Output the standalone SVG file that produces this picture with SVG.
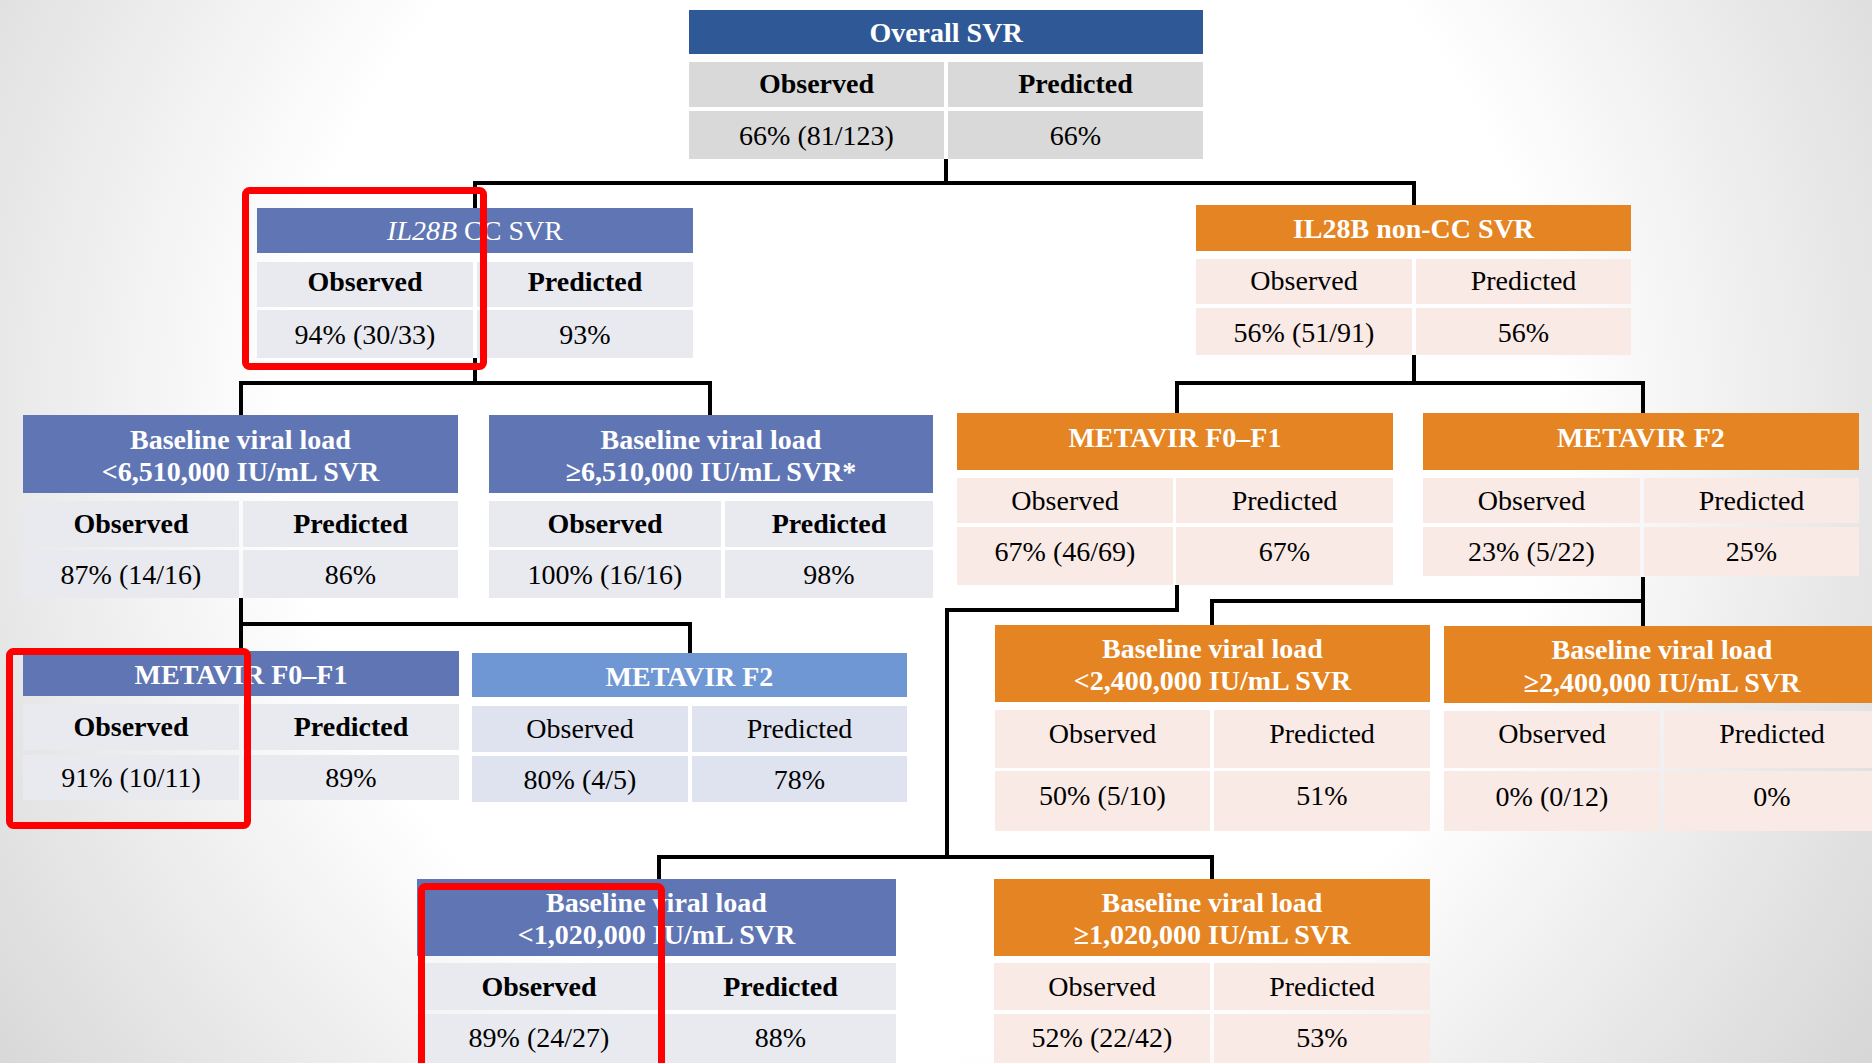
<svg xmlns="http://www.w3.org/2000/svg" width="1872" height="1063" viewBox="0 0 1872 1063">
<defs>
<radialGradient id="bg" cx="920" cy="420" r="1150" gradientUnits="userSpaceOnUse">
<stop offset="0" stop-color="#ffffff"/>
<stop offset="0.55" stop-color="#ffffff"/>
<stop offset="1" stop-color="#d6d6d6"/>
</radialGradient>
<style>
.hd-dark{fill:#2F5897}
.hd-blue{fill:#6076B4}
.hd-lblue{fill:#6F97D3}
.hd-org{fill:#E58422}
.c-gray{fill:#D9D9D9}
.c-blue{fill:#E9EAF0}
.c-lblue{fill:#DFE3EF}
.c-org{fill:#F9EAE6}
text{font-family:"Liberation Serif","Times New Roman",serif;font-size:28px;text-anchor:middle;fill:#000}
.ht{fill:#fff;font-weight:bold}
.hn{fill:#fff}
.b{font-weight:bold}
.conn{stroke:#000;stroke-width:4;fill:none;stroke-linejoin:miter;stroke-linecap:square}
.red{fill:none;stroke:#FF0000;stroke-width:7}
</style>
</defs>
<rect x="0" y="0" width="1872" height="1063" fill="url(#bg)"/>

<g id="connectors">
<path class="conn" d="M946 161 V183 M475 208 V183 H1414 V205"/>
<path class="conn" d="M475 360 V383 M241 415 V383 H710 V415"/>
<path class="conn" d="M1414 357 V383 M1177 413 V383 H1643 V413"/>
<path class="conn" d="M241 600 V651 M241 624 H690 V653"/>
<path class="conn" d="M1177 587 V610 H947 V857 M659 879 V857 H1212 V879"/>
<path class="conn" d="M1643 579 V626 M1212 624 V601 H1643"/>
</g>

<g id="overall">
<rect class="hd-dark" x="689" y="10" width="514" height="44"/>
<rect class="c-gray" x="689" y="62" width="255" height="45"/>
<rect class="c-gray" x="948" y="62" width="255" height="45"/>
<rect class="c-gray" x="689" y="111" width="255" height="48"/>
<rect class="c-gray" x="948" y="111" width="255" height="48"/>
<text class="ht" x="946" y="41.5">Overall SVR</text>
<text class="b" x="816.5" y="93">Observed</text>
<text class="b" x="1075.5" y="93">Predicted</text>
<text x="816.5" y="144.5">66% (81/123)</text>
<text x="1075.5" y="144.5">66%</text>
</g>

<g id="il28b-cc">
<rect class="hd-blue" x="257" y="208" width="436" height="45"/>
<rect class="c-blue" x="257" y="262" width="216" height="45"/>
<rect class="c-blue" x="477" y="262" width="216" height="45"/>
<rect class="c-blue" x="257" y="310" width="216" height="48"/>
<rect class="c-blue" x="477" y="310" width="216" height="48"/>
<text class="hn" x="475" y="240"><tspan font-style="italic">IL28B</tspan> CC SVR</text>
<text class="b" x="365" y="291">Observed</text>
<text class="b" x="585" y="291">Predicted</text>
<text x="365" y="343.5">94% (30/33)</text>
<text x="585" y="343.5">93%</text>
</g>

<g id="il28b-noncc">
<rect class="hd-org" x="1196" y="205" width="435" height="46"/>
<rect class="c-org" x="1196" y="259" width="216" height="45"/>
<rect class="c-org" x="1416" y="259" width="215" height="45"/>
<rect class="c-org" x="1196" y="308" width="216" height="47"/>
<rect class="c-org" x="1416" y="308" width="215" height="47"/>
<text class="ht" x="1413.5" y="237.5">IL28B non-CC SVR</text>
<text x="1304" y="290">Observed</text>
<text x="1523.5" y="290">Predicted</text>
<text x="1304" y="341.5">56% (51/91)</text>
<text x="1523.5" y="341.5">56%</text>
</g>

<g id="bvl-lt-6510">
<rect class="hd-blue" x="23" y="415" width="435" height="78"/>
<rect class="c-blue" x="23" y="501" width="216" height="46"/>
<rect class="c-blue" x="243" y="501" width="215" height="46"/>
<rect class="c-blue" x="23" y="550" width="216" height="48"/>
<rect class="c-blue" x="243" y="550" width="215" height="48"/>
<text class="ht" x="240.5" y="449">Baseline viral load</text>
<text class="ht" x="240.5" y="481">&lt;6,510,000 IU/mL SVR</text>
<text class="b" x="131" y="532.5">Observed</text>
<text class="b" x="350.5" y="532.5">Predicted</text>
<text x="131" y="584">87% (14/16)</text>
<text x="350.5" y="584">86%</text>
</g>

<g id="bvl-ge-6510">
<rect class="hd-blue" x="489" y="415" width="444" height="78"/>
<rect class="c-blue" x="489" y="501" width="232" height="46"/>
<rect class="c-blue" x="725" y="501" width="208" height="46"/>
<rect class="c-blue" x="489" y="550" width="232" height="48"/>
<rect class="c-blue" x="725" y="550" width="208" height="48"/>
<text class="ht" x="711" y="449">Baseline viral load</text>
<text class="ht" x="711" y="481">≥6,510,000 IU/mL SVR*</text>
<text class="b" x="605" y="532.5">Observed</text>
<text class="b" x="829" y="532.5">Predicted</text>
<text x="605" y="584">100% (16/16)</text>
<text x="829" y="584">98%</text>
</g>

<g id="metavir-f0f1-noncc">
<rect class="hd-org" x="957" y="413" width="436" height="57"/>
<rect class="c-org" x="957" y="478" width="216" height="45"/>
<rect class="c-org" x="1176" y="478" width="217" height="45"/>
<rect class="c-org" x="957" y="527" width="216" height="58"/>
<rect class="c-org" x="1176" y="527" width="217" height="58"/>
<text class="ht" x="1175" y="447">METAVIR F0–F1</text>
<text x="1065" y="510">Observed</text>
<text x="1284.5" y="510">Predicted</text>
<text x="1065" y="561">67% (46/69)</text>
<text x="1284.5" y="561">67%</text>
</g>

<g id="metavir-f2-noncc">
<rect class="hd-org" x="1423" y="413" width="436" height="57"/>
<rect class="c-org" x="1423" y="478" width="217" height="45"/>
<rect class="c-org" x="1644" y="478" width="215" height="45"/>
<rect class="c-org" x="1423" y="527" width="217" height="49"/>
<rect class="c-org" x="1644" y="527" width="215" height="49"/>
<text class="ht" x="1641" y="447">METAVIR F2</text>
<text x="1531.5" y="510">Observed</text>
<text x="1751.5" y="510">Predicted</text>
<text x="1531.5" y="561">23% (5/22)</text>
<text x="1751.5" y="561">25%</text>
</g>

<g id="metavir-f0f1-cc">
<rect class="hd-blue" x="23" y="651" width="436" height="45"/>
<rect class="c-blue" x="23" y="704" width="216" height="46"/>
<rect class="c-blue" x="243" y="704" width="216" height="46"/>
<rect class="c-blue" x="23" y="755" width="216" height="45"/>
<rect class="c-blue" x="243" y="755" width="216" height="45"/>
<text class="ht" x="241" y="684">METAVIR F0–F1</text>
<text class="b" x="131" y="735.5">Observed</text>
<text class="b" x="351" y="735.5">Predicted</text>
<text x="131" y="786.5">91% (10/11)</text>
<text x="351" y="786.5">89%</text>
</g>

<g id="metavir-f2-cc">
<rect class="hd-lblue" x="472" y="653" width="435" height="44"/>
<rect class="c-lblue" x="472" y="706" width="216" height="46"/>
<rect class="c-lblue" x="692" y="706" width="215" height="46"/>
<rect class="c-lblue" x="472" y="756" width="216" height="46"/>
<rect class="c-lblue" x="692" y="756" width="215" height="46"/>
<text class="ht" x="689.5" y="685.5">METAVIR F2</text>
<text x="580" y="738">Observed</text>
<text x="799.5" y="738">Predicted</text>
<text x="580" y="789">80% (4/5)</text>
<text x="799.5" y="789">78%</text>
</g>

<g id="bvl-lt-2400">
<rect class="hd-org" x="995" y="625" width="435" height="77"/>
<rect class="c-org" x="995" y="710" width="215" height="58"/>
<rect class="c-org" x="1214" y="710" width="216" height="58"/>
<rect class="c-org" x="995" y="771" width="215" height="60"/>
<rect class="c-org" x="1214" y="771" width="216" height="60"/>
<text class="ht" x="1212.5" y="657.5">Baseline viral load</text>
<text class="ht" x="1212.5" y="690">&lt;2,400,000 IU/mL SVR</text>
<text x="1102.5" y="742.5">Observed</text>
<text x="1322" y="742.5">Predicted</text>
<text x="1102.5" y="804.5">50% (5/10)</text>
<text x="1322" y="804.5">51%</text>
</g>

<g id="bvl-ge-2400">
<rect class="hd-org" x="1444" y="626" width="436" height="77"/>
<rect class="c-org" x="1444" y="711" width="216" height="57"/>
<rect class="c-org" x="1664" y="711" width="216" height="57"/>
<rect class="c-org" x="1444" y="771" width="216" height="60"/>
<rect class="c-org" x="1664" y="771" width="216" height="60"/>
<text class="ht" x="1662" y="659">Baseline viral load</text>
<text class="ht" x="1662" y="691.5">≥2,400,000 IU/mL SVR</text>
<text x="1552" y="742.5">Observed</text>
<text x="1772" y="742.5">Predicted</text>
<text x="1552" y="805.5">0% (0/12)</text>
<text x="1772" y="805.5">0%</text>
</g>

<g id="bvl-lt-1020">
<rect class="hd-blue" x="417" y="879" width="479" height="77"/>
<rect class="c-blue" x="417" y="963" width="244" height="47"/>
<rect class="c-blue" x="665" y="963" width="231" height="47"/>
<rect class="c-blue" x="417" y="1014" width="244" height="49"/>
<rect class="c-blue" x="665" y="1014" width="231" height="49"/>
<text class="ht" x="656.5" y="912">Baseline viral load</text>
<text class="ht" x="656.5" y="944">&lt;1,020,000 IU/mL SVR</text>
<text class="b" x="539" y="995.5">Observed</text>
<text class="b" x="780.5" y="995.5">Predicted</text>
<text x="539" y="1047">89% (24/27)</text>
<text x="780.5" y="1047">88%</text>
</g>

<g id="bvl-ge-1020">
<rect class="hd-org" x="994" y="879" width="436" height="77"/>
<rect class="c-org" x="994" y="963" width="216" height="47"/>
<rect class="c-org" x="1214" y="963" width="216" height="47"/>
<rect class="c-org" x="994" y="1014" width="216" height="49"/>
<rect class="c-org" x="1214" y="1014" width="216" height="49"/>
<text class="ht" x="1212" y="912">Baseline viral load</text>
<text class="ht" x="1212" y="944">≥1,020,000 IU/mL SVR</text>
<text x="1102" y="995.5">Observed</text>
<text x="1322" y="995.5">Predicted</text>
<text x="1102" y="1047">52% (22/42)</text>
<text x="1322" y="1047">53%</text>
</g>

<g id="highlights">
<rect class="red" x="245.5" y="190.5" width="238" height="176" rx="4"/>
<rect class="red" x="9.5" y="651.5" width="238" height="174" rx="4"/>
<rect class="red" x="421.5" y="886.5" width="240" height="190" rx="4"/>
</g>
</svg>
